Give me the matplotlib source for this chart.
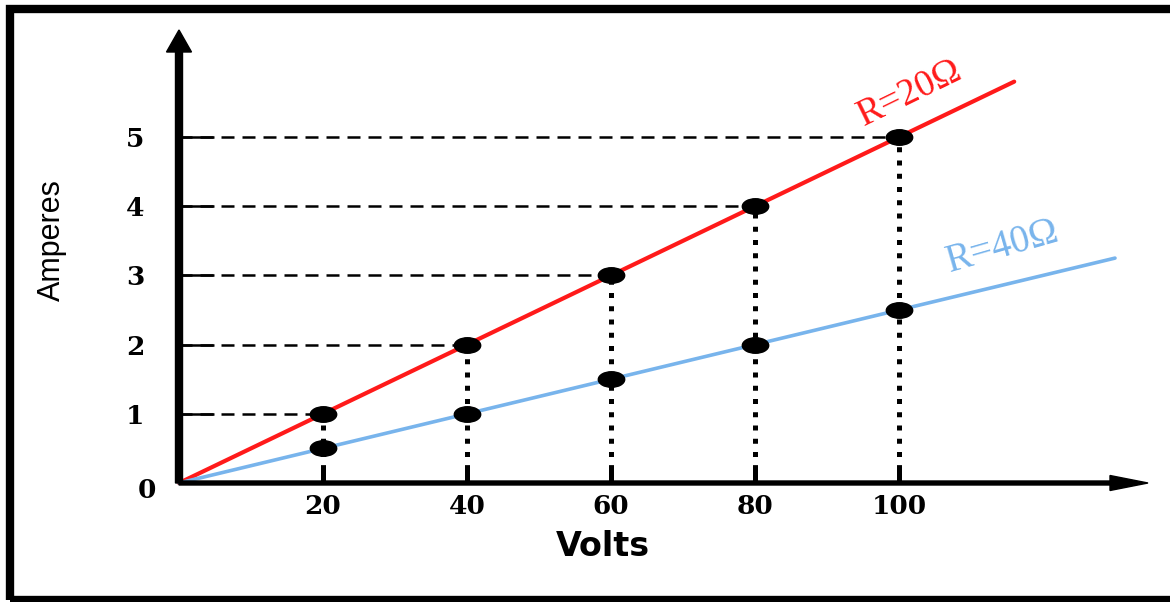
import matplotlib
matplotlib.use("Agg")
import matplotlib.pyplot as plt
from matplotlib.path import Path
from matplotlib.transforms import Affine2D
from matplotlib.patches import Rectangle

# ---- data ----
volts = [20, 40, 60, 80, 100]
amps_20ohm = [1, 2, 3, 4, 5]
amps_40ohm = [0.5, 1, 1.5, 2, 2.5]
amp_ticks = [1, 2, 3, 4, 5]
red_line_v = [0, 116]
red_line_a = [0, 5.8]
blue_line_v = [0, 130]
blue_line_a = [0, 3.25]
label_20 = "R=20Ω"
label_40 = "R=40Ω"

RED = "#ff1a1a"
BLUE = "#78b4ec"

W, H = 1170, 602
fig = plt.figure(figsize=(W / 100, H / 100), dpi=100)
ax = fig.add_axes([0, 0, 1, 1])

# layout: pixel position of the origin and scale
ox, oy = 179, 483
pxv = 7.2      # pixels per volt
pxa = 69.2     # pixels per ampere
ax.set_xlim(-ox / pxv, (W - ox) / pxv)
ax.set_ylim(-(H - oy) / pxa, oy / pxa)

for s in ["top", "right"]:
    ax.spines[s].set_visible(False)
ax.spines["left"].set_position(("data", 0))
ax.spines["bottom"].set_position(("data", 0))
ax.spines["left"].set_visible(False)
ax.spines["bottom"].set_visible(False)

# axes arrows
ytip = (oy - 30) / pxa
xtip = (1148 - ox) / pxv
ax.arrow(0, 0, 0, ytip, width=7 / pxv, head_width=25 / pxv, head_length=22 / pxa,
         length_includes_head=True, color="black", zorder=5, clip_on=False)
ax.arrow(0, 0, xtip, 0, width=4 / pxa, head_width=15 / pxa, head_length=38 / pxv,
         length_includes_head=True, color="black", zorder=5, clip_on=False)

# dashed horizontal guides and dotted vertical guides
for v, a in zip(volts, amps_20ohm):
    ax.plot([0, v], [a, a], color="black", lw=1.8, dashes=(5.2, 3.2), zorder=2)
    ax.plot([v, v], [0, a], color="black", lw=3.6, linestyle=":", zorder=2)

# resistance lines
ax.plot(red_line_v, red_line_a, color=RED, lw=3.0, zorder=3, solid_capstyle="round")
ax.plot(blue_line_v, blue_line_a, color=BLUE, lw=2.6, zorder=3, solid_capstyle="round")

# ellipse markers
ell = Path.unit_circle().transformed(Affine2D().scale(1.7, 1.0))
ax.plot(volts, amps_20ohm, linestyle="none", marker=ell, ms=19, color="black", zorder=4)
ax.plot(volts, amps_40ohm, linestyle="none", marker=ell, ms=19, color="black", zorder=4)

# ticks
ax.set_xticks(volts)
ax.set_xticklabels([str(v) for v in volts], fontfamily="DejaVu Serif",
                   fontweight="bold", fontsize=19)
ax.set_yticks(amp_ticks)
ax.set_yticklabels([str(a) for a in amp_ticks], fontfamily="DejaVu Serif",
                   fontweight="bold", fontsize=19)
ax.tick_params(axis="x", direction="in", length=13, width=3.6, pad=8, color="black")
ax.tick_params(axis="y", direction="in", length=25, width=1.8, pad=25, color="black")

ax.annotate("0", xy=(0, 0), xytext=(-32, -8), textcoords="offset pixels",
            ha="center", va="center", fontfamily="DejaVu Serif",
            fontweight="bold", fontsize=19)

# axis titles
ax.text((603 - ox) / pxv, (oy - 547) / pxa, "Volts", ha="center", va="center",
        fontfamily="DejaVu Sans", fontweight="bold", fontsize=24)
ax.text((52 - ox) / pxv, (oy - 240) / pxa, "Amperes", ha="center", va="center",
        rotation=90, fontfamily="Liberation Sans", fontsize=22)

# line labels
ax.text((910 - ox) / pxv, (oy - 93) / pxa, label_20, ha="center", va="center",
        rotation=26, color=RED, fontfamily="Liberation Serif", fontsize=27)
ax.text((1003 - ox) / pxv, (oy - 247) / pxa, label_40, ha="center", va="center",
        rotation=16, color=BLUE, fontfamily="Liberation Serif", fontsize=28)

# image frame
fig.patches.append(Rectangle((9.5 / W, 2 / H), (W + 20) / W, (H - 11) / H,
                             transform=fig.transFigure, fill=False,
                             edgecolor="black", lw=6.0, zorder=10))

fig.savefig("out.png", dpi=100)
